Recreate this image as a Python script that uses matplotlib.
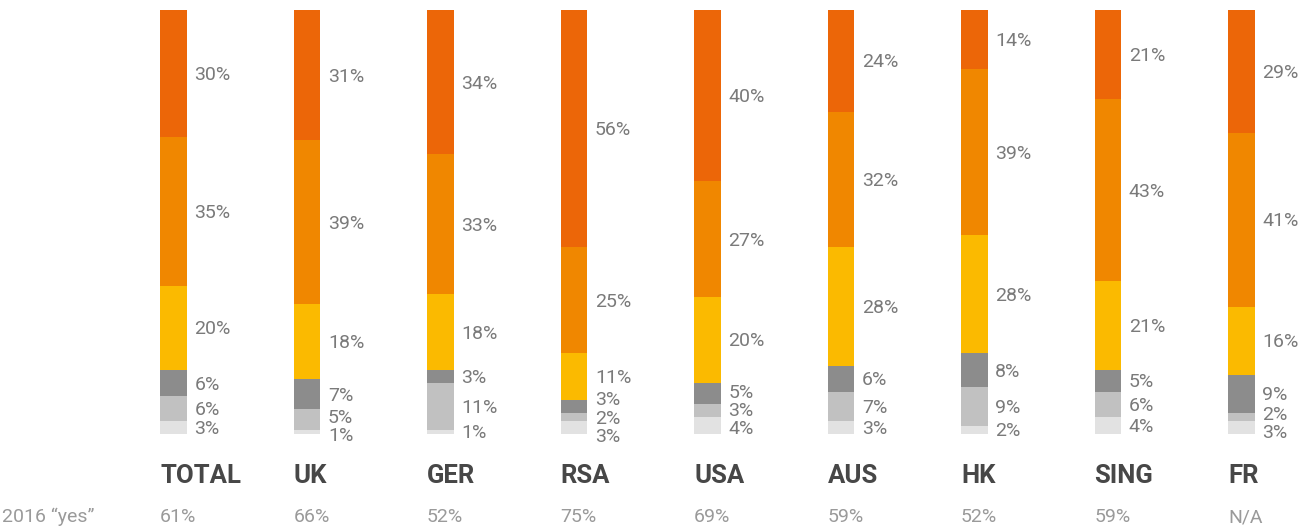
import matplotlib
matplotlib.use("Agg")
import matplotlib.pyplot as plt
import numpy as np


PAYS = ["TOTAL", "UK", "GER", "RSA", "USA", "AUS", "HK", "SING", "FR"]
OUI_2016 = ["61%", "66%", "52%", "75%", "69%", "59%", "52%", "59%", "N/A"]

# segments du bas vers le haut
TRES_CLAIR = [3, 1, 1, 3, 4, 3, 2, 4, 3]
GRIS_CLAIR = [6, 5, 11, 2, 3, 7, 9, 6, 2]
GRIS_FONCE = [6, 7, 3, 3, 5, 6, 8, 5, 9]
JAUNE = [20, 18, 18, 11, 20, 28, 28, 21, 16]
ORANGE = [35, 39, 33, 25, 27, 32, 39, 43, 41]
ORANGE_FONCE = [30, 31, 34, 56, 40, 24, 14, 21, 29]

COULEURS = ["#e2e2e2", "#c1c1c1", "#8c8c8c", "#fbba00", "#f08700", "#ec6608"]
GRIS_TEXTE = "#7a7a7a"


def ecarter(centres, ecart_min):
    pos = list(centres)
    for _ in range(200):
        bouge = False
        for k in range(len(pos) - 1):
            d = pos[k + 1] - pos[k]
            if d < ecart_min:
                delta = (ecart_min - d) / 2
                pos[k] -= delta
                pos[k + 1] += delta
                bouge = True
        if not bouge:
            break
    return pos


def main() -> None:
    plt.rcParams["font.family"] = ["Roboto", "DejaVu Sans"]
    series = np.array([TRES_CLAIR, GRIS_CLAIR, GRIS_FONCE, JAUNE, ORANGE, ORANGE_FONCE], dtype=float)
    totaux = series.sum(axis=0)
    norm = series / totaux * 100

    fig = plt.figure(figsize=(13.06, 5.26), dpi=100)
    ax = fig.add_axes([0, 0.1749, 1, 0.806])
    ax.set_xlim(-1.2996, 8.483)
    ax.set_ylim(0, 100)
    ax.axis("off")

    x = np.arange(len(PAYS))
    largeur = 0.202
    bas = np.zeros(len(PAYS))
    for s in range(len(series)):
        ax.bar(x, norm[s], largeur, bottom=bas, color=COULEURS[s], linewidth=0)
        bas += norm[s]

    for i in range(len(PAYS)):
        cumul = np.cumsum(norm[:, i])
        centres = cumul - norm[:, i] / 2
        positions = ecarter(centres, 4.3)
        for s in range(len(series)):
            ax.text(x[i] + largeur / 2 + 0.055, positions[s] - 0.35, f"{int(series[s, i])}%",
                    ha="left", va="center", fontsize=14, color=GRIS_TEXTE, clip_on=False)
        ax.text(x[i] - largeur / 2, -9.8, PAYS[i], ha="left", va="center",
                fontsize=18.5, fontweight="bold", color="#474747", clip_on=False)
        ax.text(x[i] - largeur / 2, -19.6, OUI_2016[i], ha="left", va="center",
                fontsize=14, color="#9a9a9a", clip_on=False)

    ax.text(-1.287, -19.6, "2016 \u201cyes\u201d", ha="left", va="center",
            fontsize=14, color="#9a9a9a", clip_on=False)

    fig.savefig("out.png", dpi=100)
    plt.close(fig)


if __name__ == "__main__":
    main()
